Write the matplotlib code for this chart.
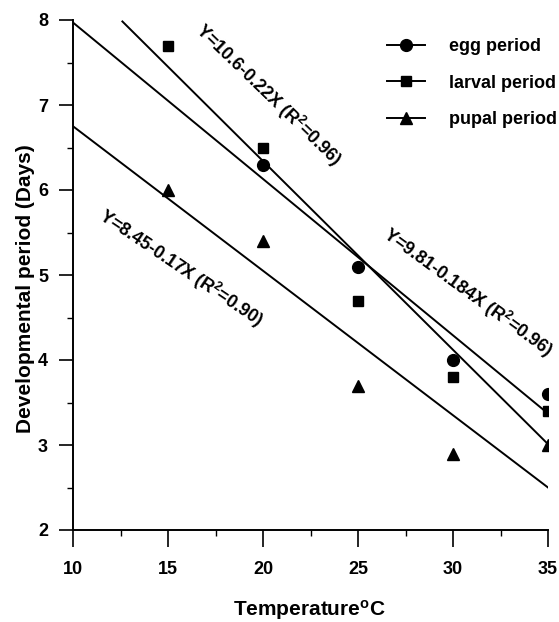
import matplotlib
matplotlib.use("Agg")
import matplotlib.pyplot as plt
import numpy as np
from matplotlib.lines import Line2D

plt.rcParams['font.family'] = ['Liberation Sans', 'DejaVu Sans']
plt.rcParams['font.weight'] = 'bold'
plt.rcParams['mathtext.fontset'] = 'custom'
plt.rcParams['mathtext.rm'] = 'Liberation Sans:bold'
plt.rcParams['mathtext.it'] = 'Liberation Sans:bold'
plt.rcParams['mathtext.bf'] = 'Liberation Sans:bold'
plt.rcParams['mathtext.default'] = 'rm'

# Data
egg_x = [20, 25, 30, 35]
egg_y = [6.3, 5.1, 4.0, 3.6]
larval_x = [15, 20, 25, 30, 35]
larval_y = [7.7, 6.5, 4.7, 3.8, 3.4]
pupal_x = [15, 20, 25, 30, 35]
pupal_y = [6.0, 5.4, 3.7, 2.9, 3.0]

# regression lines: intercept, slope, x-range
fit_egg = (9.81, -0.184, 10, 35)
fit_larval = (10.78, -0.222, 12.6, 35)
fit_pupal = (8.45, -0.17, 10, 35)

labels = ["egg period", "larval period", "pupal period"]
eq_texts = ["Y=10.6-0.22X (R$^2$=0.96)",
            "Y=9.81-0.184X (R$^2$=0.96)",
            "Y=8.45-0.17X (R$^2$=0.90)"]

W, H = 559, 622
fig = plt.figure(figsize=(W / 100, H / 100), dpi=100)
ax = fig.add_axes([73 / W, 1 - 530 / H, (548 - 73) / W, (530 - 20) / H])

for (b, m, x0, x1) in [fit_egg, fit_larval, fit_pupal]:
    xs = np.array([x0, x1])
    ax.plot(xs, b + m * xs, color='black', lw=1.4)

ms = 8.5
ax.plot(egg_x, egg_y, 'o', color='black', ms=ms, ls='none')
ax.plot(larval_x, larval_y, 's', color='black', ms=ms - 1.5, ls='none')
ax.plot(pupal_x, pupal_y, '^', color='black', ms=ms, ls='none')

handles = [Line2D([0], [0], color='black', lw=1.4, marker='o', ms=ms),
           Line2D([0], [0], color='black', lw=1.4, marker='s', ms=ms - 1.5),
           Line2D([0], [0], color='black', lw=1.4, marker='^', ms=ms)]
ax.legend(handles, labels, loc='upper left', bbox_to_anchor=(380 / W, 1 - 31 / H),
          bbox_transform=fig.transFigure,
          frameon=False, fontsize=13, handlelength=2.1, labelspacing=1.08,
          handletextpad=1.3, borderaxespad=0)

# equation annotations
ax.text(20.3, 7.12, eq_texts[0], rotation=-44, ha='center', va='center',
        rotation_mode='anchor', fontsize=13, fontweight='bold')
ax.text(30.8, 4.8, eq_texts[1], rotation=-36, ha='center', va='center',
        rotation_mode='anchor', fontsize=13, fontweight='bold')
ax.text(15.7, 5.08, eq_texts[2], rotation=-34, ha='center', va='center',
        rotation_mode='anchor', fontsize=13, fontweight='bold')

ax.set_xlim(10, 35)
ax.set_ylim(2, 8)
ax.set_xticks([10, 15, 20, 25, 30, 35])
ax.set_yticks([2, 3, 4, 5, 6, 7, 8])
ax.set_xticks(np.arange(12.5, 35, 5), minor=True)
ax.set_yticks(np.arange(2.5, 8, 1), minor=True)
ax.tick_params(axis='x', which='major', direction='out', length=12, width=1.2,
               labelsize=13, pad=10)
ax.tick_params(axis='y', which='major', direction='out', length=10, width=1.2,
               labelsize=13, pad=8)
ax.tick_params(axis='both', which='minor', direction='out', length=4, width=1.0)
for s in ['top', 'right']:
    ax.spines[s].set_visible(False)
for s in ['left', 'bottom']:
    ax.spines[s].set_linewidth(1.4)
for lab in ax.get_xticklabels() + ax.get_yticklabels():
    lab.set_fontweight('bold')

ax.set_xlabel("Temperature$^{\\rm o}$C", fontsize=15, fontweight='bold')
ax.set_ylabel("Developmental period (Days)", fontsize=15, fontweight='bold')
ax.xaxis.set_label_coords(0.497, -0.133)
ax.yaxis.set_label_coords(-0.08, 0.474)

fig.savefig("out.png", dpi=100)
